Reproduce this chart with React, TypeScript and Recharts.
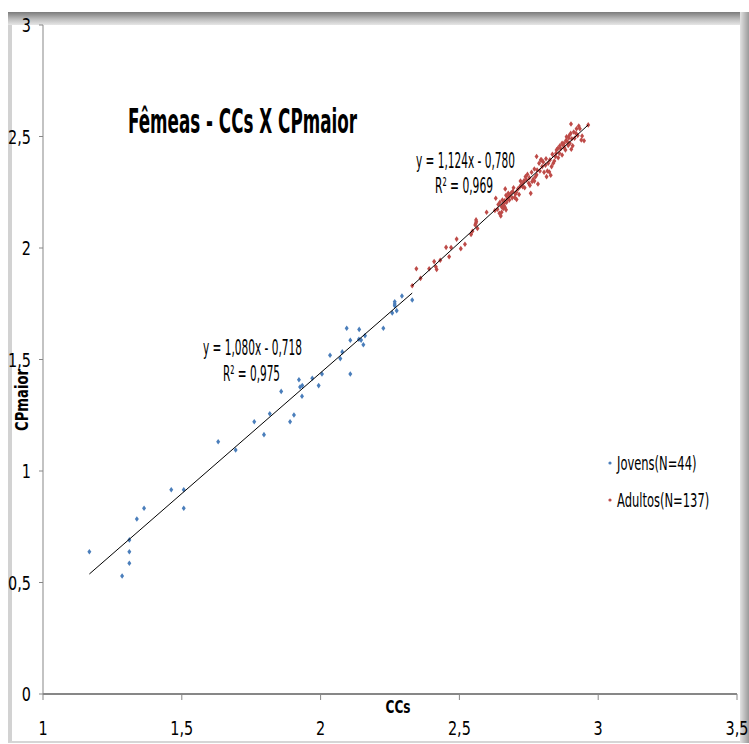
import React from "react";
import { Legend, Scatter, ScatterChart, XAxis, YAxis } from "recharts";

const NARROW = "'Liberation Sans Narrow', 'DejaVu Sans Condensed', 'Liberation Sans', Arial, sans-serif";

const xTicks = [1, 1.5, 2, 2.5, 3, 3.5];
const yTicks = [0, 0.5, 1, 1.5, 2, 2.5, 3];

const seriesNames = ["Jovens(N=44)", "Adultos(N=137)"];

// CCs, CPmaior
const jovens: [number, number][] = [
  [1.167, 0.638], [1.285, 0.529], [1.311, 0.586], [1.311, 0.638], [1.311, 0.691],
  [1.338, 0.785], [1.364, 0.833], [1.462, 0.916], [1.507, 0.916], [1.507, 0.833],
  [1.631, 1.131], [1.694, 1.094], [1.761, 1.221], [1.796, 1.163], [1.817, 1.257],
  [1.858, 1.357], [1.89, 1.221], [1.904, 1.251], [1.922, 1.409], [1.926, 1.377],
  [1.934, 1.383], [1.933, 1.335], [1.97, 1.416], [1.993, 1.383], [2.005, 1.435],
  [2.034, 1.519], [2.071, 1.504], [2.078, 1.534], [2.094, 1.64], [2.107, 1.586],
  [2.107, 1.435], [2.139, 1.635], [2.138, 1.591], [2.146, 1.587], [2.154, 1.566],
  [2.16, 1.607], [2.226, 1.64], [2.258, 1.709], [2.267, 1.759], [2.267, 1.749],
  [2.267, 1.741], [2.274, 1.719], [2.293, 1.785], [2.33, 1.767],
];

const adultos: [number, number][] = [
  [2.33, 1.831], [2.345, 1.907], [2.36, 1.864], [2.391, 1.907], [2.409, 1.939],
  [2.415, 1.916], [2.418, 1.904], [2.431, 1.945], [2.452, 2.003], [2.463, 1.961],
  [2.47, 2.002], [2.49, 2.04], [2.505, 1.997], [2.52, 2.017], [2.542, 2.061],
  [2.547, 2.075], [2.557, 2.103], [2.559, 2.111], [2.561, 2.118], [2.56, 2.126],
  [2.565, 2.088], [2.598, 2.16], [2.631, 2.223], [2.628, 2.168], [2.637, 2.174],
  [2.644, 2.156], [2.649, 2.144], [2.652, 2.185], [2.656, 2.193], [2.658, 2.177],
  [2.661, 2.2], [2.664, 2.183], [2.668, 2.171], [2.663, 2.212], [2.665, 2.265],
  [2.668, 2.236], [2.673, 2.221], [2.675, 2.227], [2.682, 2.236], [2.687, 2.248],
  [2.692, 2.253], [2.699, 2.227], [2.706, 2.218], [2.702, 2.242], [2.711, 2.265],
  [2.718, 2.275], [2.723, 2.283], [2.728, 2.275], [2.73, 2.293], [2.733, 2.302],
  [2.738, 2.32], [2.742, 2.305], [2.75, 2.29], [2.757, 2.245], [2.754, 2.281],
  [2.762, 2.298], [2.766, 2.308], [2.774, 2.32], [2.778, 2.328], [2.783, 2.287],
  [2.77, 2.354], [2.778, 2.41], [2.787, 2.38], [2.793, 2.395], [2.798, 2.365],
  [2.802, 2.386], [2.81, 2.371], [2.817, 2.345], [2.814, 2.32], [2.824, 2.341],
  [2.829, 2.326], [2.832, 2.365], [2.838, 2.38], [2.846, 2.41], [2.85, 2.44],
  [2.855, 2.447], [2.86, 2.425], [2.87, 2.417], [2.862, 2.458], [2.874, 2.461],
  [2.877, 2.47], [2.882, 2.44], [2.889, 2.476], [2.894, 2.493], [2.898, 2.47],
  [2.903, 2.443], [2.886, 2.499], [2.908, 2.458], [2.922, 2.535], [2.93, 2.547],
  [2.934, 2.535], [2.939, 2.484], [2.942, 2.502], [2.949, 2.481], [2.902, 2.556],
  [2.901, 2.514], [2.915, 2.492], [2.92, 2.514], [2.964, 2.552],
  [2.64, 2.195], [2.646, 2.205], [2.652, 2.16], [2.655, 2.215], [2.66, 2.19],
  [2.67, 2.205], [2.676, 2.245], [2.68, 2.215], [2.69, 2.225], [2.695, 2.27],
  [2.705, 2.25], [2.715, 2.24], [2.72, 2.3], [2.735, 2.27], [2.745, 2.33],
  [2.752, 2.315], [2.76, 2.34], [2.77, 2.3], [2.78, 2.35], [2.79, 2.345],
  [2.796, 2.395], [2.805, 2.34], [2.812, 2.4], [2.82, 2.38], [2.826, 2.395],
  [2.835, 2.42], [2.842, 2.39], [2.848, 2.425], [2.856, 2.405], [2.865, 2.445],
  [2.87, 2.47], [2.878, 2.45], [2.884, 2.482], [2.892, 2.46], [2.896, 2.505],
  [2.905, 2.49], [2.912, 2.52], [2.926, 2.505],
];

// linear trend line ends, as drawn
const trendJovens: [number, number][] = [[1.167, 0.538], [2.33, 1.798]];
const trendAdultos: [number, number][] = [[2.33, 1.831], [2.964, 2.552]];

const toPoints = (rows: [number, number][]) => rows.map(([x, y]) => ({ x, y }));
const fmt = (v: number) => String(v).replace(".", ",");

const diamond = (color: string) => (props: any) => {
  const { cx, cy } = props;
  if (cx == null || cy == null) return <g />;
  return <path d={`M${cx},${cy - 2.8}L${cx + 2},${cy}L${cx},${cy + 2.8}L${cx - 2},${cy}Z`} fill={color} />;
};

// narrow tick labels, like the condensed font in the original
const XTick = ({ x, y, payload }: any) => (
  <g transform={`translate(${x},${y}) scale(0.8,1)`}>
    <text textAnchor="middle" dy="0.71em" fontSize={20} fontFamily={NARROW} fill="#000">
      {fmt(payload.value)}
    </text>
  </g>
);

const YTick = ({ x, y, payload }: any) => (
  <g transform={`translate(${x},${y}) scale(0.8,1)`}>
    <text textAnchor="end" dy="0.355em" fontSize={20} fontFamily={NARROW} fill="#000">
      {fmt(payload.value)}
    </text>
  </g>
);

function LegendBox({ payload }: any) {
  const items = (payload || [])
    .filter((p: any) => seriesNames.includes(p.value))
    .sort((a: any, b: any) => seriesNames.indexOf(a.value) - seriesNames.indexOf(b.value));
  return (
    <svg width={130} height={75} style={{ display: "block" }}>
      {items.map((p: any, i: number) => (
        <g key={p.value}>
          <circle cx={10} cy={18 + i * 37} r={1.6} fill={p.color} />
          <g transform={`translate(17,${25 + i * 37}) scale(0.64,1)`}>
            <text fontSize={20} fontFamily={NARROW} fill="#000">
              {p.value}
            </text>
          </g>
        </g>
      ))}
    </svg>
  );
}

export default function App() {
  return (
    <div style={{ position: "absolute", left: 0, top: 0, width: 749, height: 744, background: "#fff" }}>
      {/* Excel-like chart frame */}
      <div style={{ position: "absolute", left: 8, top: 12, width: 737, height: 729, borderLeft: "4px solid #d2d2d2", borderBottom: "2px solid #d6d6d6" }} />
      <div style={{ position: "absolute", left: 8, top: 12, width: 741, height: 13, background: "linear-gradient(to bottom, #7b7b7b, #bdbdbd 55%, #e6e6e6)" }} />
      <div style={{ position: "absolute", left: 740, top: 12, width: 9, height: 731, background: "linear-gradient(to right, #e2e2e2, #9a9a9a)" }} />

      <div style={{ position: "absolute", left: 0, top: 0 }}>
        <ScatterChart width={749} height={744} margin={{ top: 25, right: 12, bottom: 0, left: 8 }}>
          <XAxis
            type="number"
            dataKey="x"
            domain={[1, 3.5]}
            ticks={xTicks}
            height={50}
            axisLine={{ stroke: "#878787", strokeWidth: 2 }}
            tickLine={{ stroke: "#878787" }}
            tickSize={6}
            tickMargin={21}
            tick={<XTick />}
            allowDataOverflow
          />
          <YAxis
            type="number"
            dataKey="y"
            domain={[0, 3]}
            ticks={yTicks}
            width={35}
            axisLine={{ stroke: "#878787", strokeWidth: 1 }}
            tickLine={{ stroke: "#878787" }}
            tickSize={4}
            tickMargin={8}
            tick={<YTick />}
            allowDataOverflow
          />
          <Legend
            layout="horizontal"
            verticalAlign="middle"
            align="center"
            wrapperStyle={{ position: "absolute", left: 600, top: 445, width: 130 }}
            content={<LegendBox />}
          />
          <Scatter name={seriesNames[0]} data={toPoints(jovens)} fill="#4a7ebb" shape={diamond("#4a7ebb")} isAnimationActive={false} />
          <Scatter name={seriesNames[1]} data={toPoints(adultos)} fill="#be4b48" shape={diamond("#be4b48")} isAnimationActive={false} />
          <Scatter data={toPoints(trendJovens)} line={{ stroke: "#000", strokeWidth: 1 }} shape={() => <g />} legendType="none" isAnimationActive={false} />
          <Scatter data={toPoints(trendAdultos)} line={{ stroke: "#000", strokeWidth: 1 }} shape={() => <g />} legendType="none" isAnimationActive={false} />
        </ScatterChart>
      </div>

      <svg width={749} height={744} style={{ position: "absolute", left: 0, top: 0, pointerEvents: "none" }}>
        <text x={128} y={133} fontSize={34} fontWeight="bold" fontFamily={NARROW} textLength={229} lengthAdjust="spacingAndGlyphs">
          Fêmeas - CCs X CPmaior
        </text>
        <g fontFamily={NARROW} fontSize={21} fill="#000">
          <text x={416} y={168} textLength={99} lengthAdjust="spacingAndGlyphs">y = 1,124x - 0,780</text>
          <text x={435} y={193} textLength={58} lengthAdjust="spacingAndGlyphs">R² = 0,969</text>
          <text x={203} y={355} textLength={99} lengthAdjust="spacingAndGlyphs">y = 1,080x - 0,718</text>
          <text x={223} y={381} textLength={57} lengthAdjust="spacingAndGlyphs">R² = 0,975</text>
        </g>
        <text x={398} y={713} textAnchor="middle" fontSize={18} fontWeight="bold" fontFamily={NARROW} textLength={25} lengthAdjust="spacingAndGlyphs">
          CCs
        </text>
        <text
          transform="translate(28,400) rotate(-90)"
          textAnchor="middle"
          fontSize={18}
          fontWeight="bold"
          fontFamily={NARROW}
          textLength={62}
          lengthAdjust="spacingAndGlyphs"
        >
          CPmaior
        </text>
      </svg>
    </div>
  );
}
